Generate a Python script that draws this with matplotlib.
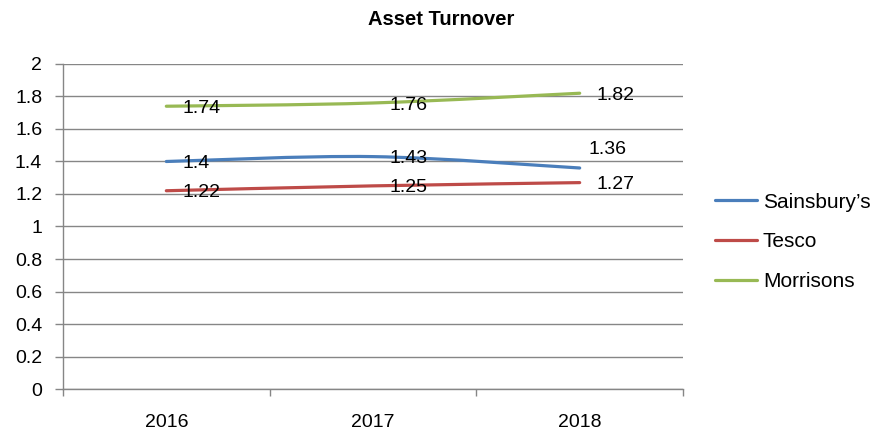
import matplotlib
matplotlib.use("Agg")
import matplotlib.pyplot as plt
from matplotlib.path import Path
from matplotlib.patches import PathPatch
from matplotlib.lines import Line2D

plt.rcParams['font.family'] = ['Liberation Sans', 'DejaVu Sans']

years = ["2016", "2017", "2018"]
sainsburys = [1.40, 1.43, 1.36]
tesco = [1.22, 1.25, 1.27]
morrisons = [1.74, 1.76, 1.82]

series = [
    ("Sainsbury\u2019s", sainsburys, "#4A7EBB"),
    ("Tesco", tesco, "#BE4B48"),
    ("Morrisons", morrisons, "#98B954"),
]

# label offsets in points (dx, dy); 1.36 was nudged up in the original
label_offsets = {("Sainsbury\u2019s", 2): (6.5, 13)}


def smooth_path(xs, ys, t=1 / 6):
    # Excel-like smoothed line: cubic Bezier through the points
    pts = list(zip(xs, ys))
    verts = [pts[0]]
    codes = [Path.MOVETO]
    n = len(pts)
    for i in range(n - 1):
        p0 = pts[i - 1] if i > 0 else pts[i]
        p1 = pts[i]
        p2 = pts[i + 1]
        p3 = pts[i + 2] if i + 2 < n else pts[i + 1]
        c1 = (p1[0] + (p2[0] - p0[0]) * t, p1[1] + (p2[1] - p0[1]) * t)
        c2 = (p2[0] - (p3[0] - p1[0]) * t, p2[1] - (p3[1] - p1[1]) * t)
        verts += [c1, c2, p2]
        codes += [Path.CURVE4] * 3
    return Path(verts, codes)


fig = plt.figure(figsize=(8.82, 4.32), dpi=100)
ax = fig.add_axes([0.0714, 0.0995, 0.7030, 0.7524])

x = list(range(len(years)))
handles = []
for name, vals, color in series:
    patch = PathPatch(smooth_path(x, vals), facecolor="none", edgecolor=color,
                      lw=2.3, capstyle="round", zorder=3)
    ax.add_patch(patch)
    handles.append(Line2D([], [], color=color, lw=2.3, solid_capstyle="round"))
    for i, v in enumerate(vals):
        dx, dy = label_offsets.get((name, i), (12, -1.5))
        ax.annotate(f"{v:g}", (x[i], v), xytext=(dx, dy), textcoords="offset points",
                    ha="left", va="center", fontsize=14, zorder=4)

ax.set_xlim(-0.5, 2.5)
ax.set_ylim(0, 2)
ax.set_yticks([i / 5 for i in range(11)])
ax.set_yticklabels(["0", "0.2", "0.4", "0.6", "0.8", "1", "1.2", "1.4", "1.6", "1.8", "2"])
ax.set_xticks(x)
ax.set_xticklabels(years)
ax.set_xticks([-0.5, 0.5, 1.5, 2.5], minor=True)
ax.tick_params(axis="x", which="major", length=0, pad=18, labelsize=14)
ax.tick_params(axis="x", which="minor", length=5, color="#868686", width=1)
ax.tick_params(axis="y", length=6, color="#868686", width=1, labelsize=14, pad=9)

ax.grid(axis="y", color="#868686", lw=1)
ax.set_axisbelow(True)
for side in ["top", "right"]:
    ax.spines[side].set_visible(False)
for side in ["left", "bottom"]:
    ax.spines[side].set_color("#868686")
    ax.spines[side].set_linewidth(1)

fig.text(0.5, 0.954, "Asset Turnover", ha="center", va="center", fontsize=14.5,
         fontweight="bold")

fig.legend(handles, [s[0] for s in series], loc="center left",
           bbox_to_anchor=(0.8107, 0.44), frameon=False, fontsize=15,
           borderpad=0, borderaxespad=0, handlelength=2.0, handletextpad=0.3,
           labelspacing=1.0)

fig.savefig("out.png", dpi=100)
